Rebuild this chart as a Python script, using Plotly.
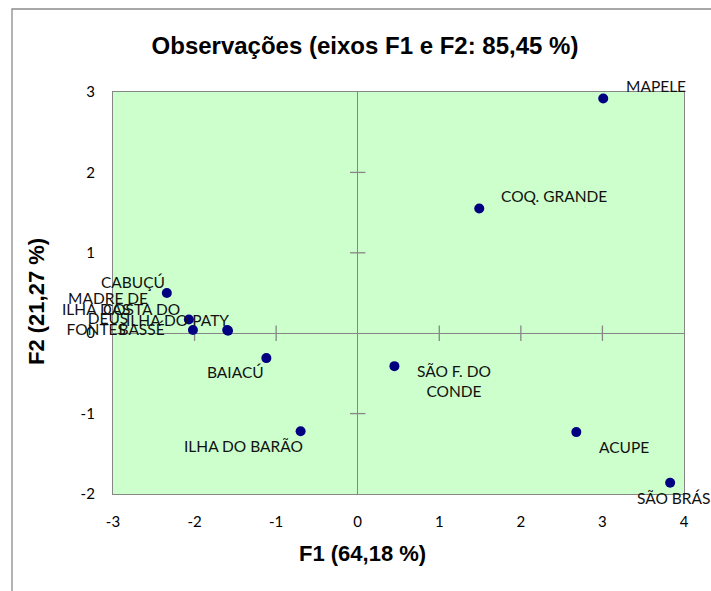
import plotly.graph_objects as go

# ---- data ----
names = ["MAPELE", "COQ. GRANDE", "SÃO F. DO<br>CONDE", "ACUPE", "SÃO BRÁS",
         "ILHA DO BARÃO", "BAIACÚ", "CABUÇÚ", "MADRE DE<br>DEUS",
         "ILHA DAS<br>FONTES", "COSTA DO<br>BASSÉ", "ILHA DO PATY"]
f1 = [3.01, 1.49, 0.45, 2.68, 3.83, -0.70, -1.12, -2.34, -2.07, -2.02, -1.60, -1.59]
f2 = [2.92, 1.55, -0.41, -1.23, -1.86, -1.22, -0.31, 0.50, 0.17, 0.04, 0.04, 0.03]
x_ticks = [-3, -2, -1, 0, 1, 2, 3, 4]
y_ticks = [-2, -1, 0, 1, 2, 3]
x_ticktext = ["-3", "-2", "-1", "0", "1", "2", "3", "4"]
y_ticktext = ["-2", "-1", "0", "1", "2", "3"]

# ---- label placement styles (xanchor, xshift px, yshift px) ----
label_pos = [("left", 21, 12), ("left", 20, 13), ("left", 21, -15), ("left", 21, -15),
             ("center", 3, -15), ("right", 4, -15), ("right", 0, -14), ("right", 0, 11),
             ("center", -81, 12), ("center", -97, 11), ("center", -86, 11), ("right", 3, 11)]

W, H = 711, 591
L, R, T, B = 113, 27, 92, 97
pw, ph = W - L - R, H - T - B

GREY = "#868686"
SANS = "Lato, Carlito, Calibri, sans-serif"
LABEL_FONT = dict(family=SANS, size=15.5, color="#111111")
BOLD_FONT = dict(family="Arial, Liberation Sans", size=22, color="#000")

fig = go.Figure()

# cross tick marks on the zero axes
xt_in = [t for t in x_ticks if t not in (0, x_ticks[0], x_ticks[-1])]
yt_in = [t for t in y_ticks if t not in (0, y_ticks[0], y_ticks[-1])]
fig.add_trace(go.Scatter(x=xt_in, y=[0] * len(xt_in), mode="markers", hoverinfo="skip",
                         marker=dict(symbol="line-ns-open", size=11, color=GREY,
                                     line=dict(color=GREY, width=1.3)),
                         showlegend=False))
fig.add_trace(go.Scatter(x=[0] * len(yt_in), y=yt_in, mode="markers", hoverinfo="skip",
                         marker=dict(symbol="line-ew-open", size=11, color=GREY,
                                     line=dict(color=GREY, width=1.3)),
                         showlegend=False))

fig.add_trace(go.Scatter(x=f1, y=f2, mode="markers", text=names,
                         marker=dict(color="#000080", size=10), showlegend=False))

annotations = []
for n, xv, yv, (xa, xs, ys) in zip(names, f1, f2, label_pos):
    annotations.append(dict(x=xv, y=yv, xref="x", yref="y", text=n, showarrow=False,
                            xanchor=xa, yanchor="middle", xshift=xs, yshift=ys,
                            align="center", font=LABEL_FONT))

# axis titles
annotations.append(dict(text="<b>F1 (64,18 %)</b>", xref="paper", yref="paper",
                        x=(362 - L) / pw, y=(H - B - 553) / ph, xanchor="center", yanchor="middle",
                        showarrow=False, font=BOLD_FONT))
annotations.append(dict(text="<b>F2 (21,27 %)</b>", xref="paper", yref="paper", textangle=-90,
                        x=(36 - L) / pw, y=(H - B - 302) / ph, xanchor="center", yanchor="middle",
                        showarrow=False, font=BOLD_FONT))

fig.update_layout(
    width=W, height=H,
    margin=dict(l=L, r=R, t=T, b=B),
    paper_bgcolor="white",
    plot_bgcolor="#CCFFCC",
    title=dict(text="<b>Observações (eixos F1 e F2: 85,45 %)</b>", x=365 / W, xanchor="center",
               y=1 - 46 / H, yanchor="middle", yref="container",
               font=dict(family="Arial, Liberation Sans", size=24, color="#000")),
    annotations=annotations,
    shapes=[dict(type="rect", xref="paper", yref="paper",
                 x0=(12 - L) / pw, x1=1.5, y0=-1.0, y1=(H - B - 9) / ph,
                 line=dict(color="#8c8c8c", width=1.3), fillcolor="rgba(0,0,0,0)", layer="below")],
)

fig.update_xaxes(range=[x_ticks[0], x_ticks[-1]], tickvals=x_ticks, ticktext=x_ticktext,
                 showgrid=False, zeroline=True, zerolinecolor=GREY, zerolinewidth=1.3,
                 showline=True, linecolor=GREY, linewidth=1.3, mirror=True,
                 ticks="", ticklabelstandoff=14,
                 tickfont=dict(family=SANS, size=15, color="#000"))
fig.update_yaxes(range=[y_ticks[0], y_ticks[-1]], tickvals=y_ticks, ticktext=y_ticktext,
                 showgrid=False, zeroline=True, zerolinecolor=GREY, zerolinewidth=1.3,
                 showline=True, linecolor=GREY, linewidth=1.3, mirror=True,
                 ticks="", ticklabelstandoff=14,
                 tickfont=dict(family=SANS, size=15, color="#000"))

fig.write_html("out.html")
